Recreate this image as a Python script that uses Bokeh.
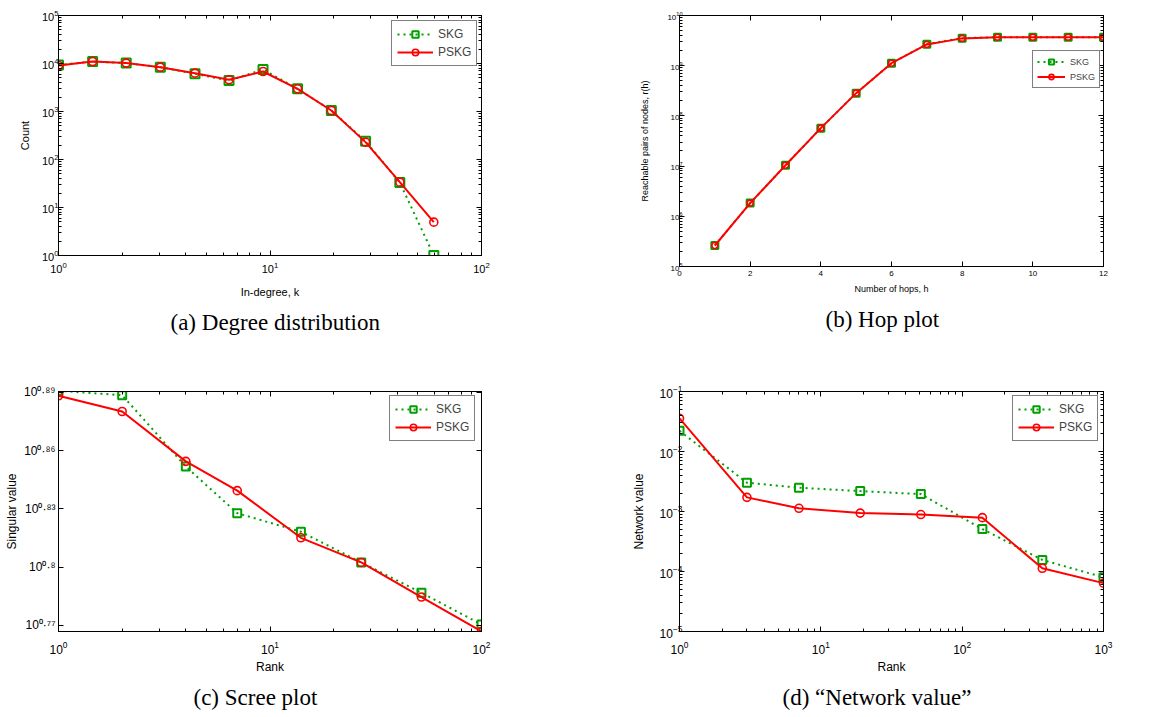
from bokeh.plotting import figure
from bokeh.layouts import column, row
from bokeh.models import (Range1d, LogAxis, LinearAxis, FixedTicker, SingleIntervalTicker,
                          Legend, LegendItem, Title, CustomJSTickFormatter)
from bokeh.embed import file_html
from bokeh.resources import INLINE

# ---------------- data ----------------
# (a) Degree distribution
deg_k = [1.0, 1.45, 2.09, 3.03, 4.42, 6.40, 9.27, 13.5, 19.5, 28.3, 41.1, 59.5]
deg_skg = [9300, 11000, 10200, 8400, 6100, 4400, 7500, 2970, 1050, 240, 33, 1]
deg_pskg = [9080, 11000, 10200, 8390, 6290, 4570, 6810, 2970, 1050, 230, 33.7, 4.95]

# (b) Hop plot
hops = [1, 2, 3, 4, 5, 6, 7, 8, 9, 10, 11, 12]
hop_skg = [2.62e5, 1.83e6, 1.04e7, 5.7e7, 2.84e8, 1.12e9, 2.69e9, 3.54e9, 3.7e9, 3.7e9, 3.7e9, 3.7e9]
hop_pskg = [2.62e5, 1.83e6, 1.04e7, 5.7e7, 2.84e8, 1.12e9, 2.65e9, 3.50e9, 3.7e9, 3.7e9, 3.7e9, 3.7e9]

# (c) Scree plot
scree_rank = [1, 2, 4, 7, 14, 27, 52, 100]
scree_skg = [7.778, 7.737, 7.109, 6.727, 6.580, 6.345, 6.121, 5.895]
scree_pskg = [7.732, 7.589, 7.153, 6.909, 6.533, 6.345, 6.090, 5.847]
scree_tick_exps = ["0.77", "0.8", "0.83", "0.86", "0.89"]

# (d) Network value
net_rank = [1, 3, 7, 19, 51, 139, 369, 1000]
net_skg = [0.0221, 0.00302, 0.00249, 0.00219, 0.00195, 5.1e-4, 1.56e-4, 8.0e-5]
net_pskg = [0.0356, 0.00172, 0.00113, 9.4e-4, 8.9e-4, 7.9e-4, 1.13e-4, 6.4e-5]

captions = ["(a) Degree distribution", "(b) Hop plot", "(c) Scree plot", "(d) \u201cNetwork value\u201d"]

FONT = "Liberation Sans"
SERIF = "Liberation Serif"
GREEN = "#00a000"
RED = "#ff0000"
SUP = {"0": "\u2070", "1": "\u00b9", "2": "\u00b2", "3": "\u00b3", "4": "\u2074",
       "5": "\u2075", "6": "\u2076", "7": "\u2077", "8": "\u2078", "9": "\u2079", ".": "\u00b7"}


def style_axis(ax, fs):
    ax.major_tick_in = 5
    ax.major_tick_out = 0
    ax.minor_tick_in = 3
    ax.minor_tick_out = 0
    ax.axis_line_color = "black"
    ax.major_tick_line_color = "black"
    ax.minor_tick_line_color = "black"
    ax.major_label_text_font = FONT
    ax.major_label_text_font_size = fs
    ax.major_label_text_color = "black"
    ax.axis_label_text_font = FONT
    ax.axis_label_text_font_style = "normal"
    ax.axis_label_text_color = "black"


def make_fig(xt, yt, xr, yr, fw, fh, bl, br, bt, bb):
    p = figure(x_axis_type=xt, y_axis_type=yt, x_range=xr, y_range=yr,
               frame_width=fw, frame_height=fh,
               min_border_left=bl, min_border_right=br,
               min_border_top=bt, min_border_bottom=bb,
               output_backend="svg", toolbar_location=None)
    p.xgrid.visible = False
    p.ygrid.visible = False
    p.outline_line_color = "black"
    p.background_fill_color = "white"
    p.border_fill_color = "white"
    return p


def add_box_axes(p, xt, yt):
    blank = CustomJSTickFormatter(code="return ''")
    xcls = LogAxis if xt == "log" else LinearAxis
    ycls = LogAxis if yt == "log" else LinearAxis
    top = xcls(ticker=p.xaxis[0].ticker, formatter=blank)
    right = ycls(ticker=p.yaxis[0].ticker, formatter=blank)
    for ax in (top, right):
        style_axis(ax, "1px")
        ax.major_label_standoff = 0
    p.add_layout(top, "above")
    p.add_layout(right, "right")


def add_series(p, x, skg, pskg, msq, mci, lab_fs, loc, gw, pad):
    l1 = p.line(x, skg, line_color=GREEN, line_width=2, line_dash="2 4")
    s1 = p.scatter(x, skg, marker="square", size=msq, line_color=GREEN,
                   line_width=2, fill_color=None)
    l2 = p.line(x, pskg, line_color=RED, line_width=2)
    s2 = p.scatter(x, pskg, marker="circle", size=mci, line_color=RED,
                   line_width=1.6, fill_color=None)
    fs = int(lab_fs[:-2])
    leg = Legend(items=[LegendItem(label="SKG", renderers=[l1, s1]),
                        LegendItem(label="PSKG", renderers=[l2, s2])],
                 location=loc, border_line_color="black", border_line_width=1,
                 background_fill_color="white", background_fill_alpha=1,
                 label_text_font=FONT, label_text_font_size=lab_fs,
                 glyph_width=gw, glyph_height=fs + 4, label_height=fs + 4,
                 spacing=2, padding=pad, margin=0, label_standoff=5)
    p.add_layout(leg)


def add_caption(p, text, offset, standoff):
    p.add_layout(Title(text=text, align="left", offset=offset, standoff=standoff,
                       text_font=SERIF, text_font_size="23px",
                       text_font_style="normal", text_color="black"), "below")


# ---------------- (a) ----------------
pa = make_fig("log", "log", Range1d(1, 100), Range1d(1, 1e5), 423, 240, 58, 109, 15, 105)
style_axis(pa.xaxis[0], "11px")
style_axis(pa.yaxis[0], "11px")
pa.xaxis[0].axis_label = "In-degree, k"
pa.yaxis[0].axis_label = "Count"
pa.xaxis[0].axis_label_text_font_size = "11px"
pa.yaxis[0].axis_label_text_font_size = "11px"
pa.xaxis[0].major_label_standoff = 6
pa.yaxis[0].major_label_standoff = 0
pa.xaxis[0].axis_label_standoff = 10
pa.yaxis[0].axis_label_standoff = 8
add_box_axes(pa, "log", "log")
add_series(pa, deg_k, deg_skg, deg_pskg, 9, 8, "12px", (333, 189), 36, 5)
add_caption(pa, captions[0], 112, 14)

# ---------------- (b) ----------------
pb = make_fig("linear", "log", Range1d(0, 12), Range1d(1e5, 1e10), 424, 251, 89, 70, 14, 95)
pb.xaxis[0].ticker = SingleIntervalTicker(interval=2, num_minor_ticks=0)
style_axis(pb.xaxis[0], "8px")
style_axis(pb.yaxis[0], "8px")
pb.xaxis[0].axis_label = "Number of hops, h"
pb.yaxis[0].axis_label = "Reachable pairs of nodes, r(h)"
pb.xaxis[0].axis_label_text_font_size = "9px"
pb.yaxis[0].axis_label_text_font_size = "9px"
pb.xaxis[0].major_label_standoff = 4
pb.yaxis[0].major_label_standoff = -3
pb.xaxis[0].axis_label_standoff = 5
pb.yaxis[0].axis_label_standoff = 14
add_box_axes(pb, "linear", "log")
add_series(pb, hops, hop_skg, hop_pskg, 7, 6, "9px", (353, 178), 28, 4)
add_caption(pb, captions[1], 146, 17)

# ---------------- (c) ----------------
scree_ticks = [10 ** float(e) for e in scree_tick_exps]
scree_labels = ["10" + "".join(SUP[ch] for ch in e) for e in scree_tick_exps]
pc = make_fig("log", "log", Range1d(1, 100), Range1d(5.846, 7.771), 423, 240, 58, 109, 31, 84)
pc.yaxis[0].ticker = FixedTicker(ticks=scree_ticks, minor_ticks=[])
pc.yaxis[0].formatter = CustomJSTickFormatter(args=dict(labels=scree_labels, vals=scree_ticks),
                                              code="""
let best = 0;
for (let i = 0; i < vals.length; i++) {
  if (Math.abs(vals[i] - tick) < Math.abs(vals[best] - tick)) best = i;
}
return labels[best];
""")
style_axis(pc.xaxis[0], "12px")
style_axis(pc.yaxis[0], "12px")
pc.xaxis[0].axis_label = "Rank"
pc.yaxis[0].axis_label = "Singular value"
pc.xaxis[0].axis_label_text_font_size = "12px"
pc.yaxis[0].axis_label_text_font_size = "12px"
pc.xaxis[0].major_label_standoff = 9
pc.xaxis[0].axis_label_standoff = 3
pc.yaxis[0].major_label_standoff = 3
pc.yaxis[0].axis_label_standoff = 2
add_box_axes(pc, "log", "log")
add_series(pc, scree_rank, scree_skg, scree_pskg, 8, 8, "12px", (331, 190), 36, 5)
add_caption(pc, captions[2], 135, 13)

# ---------------- (d) ----------------
pd_ = make_fig("log", "log", Range1d(1, 1000), Range1d(1e-5, 1e-1), 424, 240, 89, 70, 31, 84)
style_axis(pd_.xaxis[0], "12px")
style_axis(pd_.yaxis[0], "12px")
pd_.xaxis[0].axis_label = "Rank"
pd_.yaxis[0].axis_label = "Network value"
pd_.xaxis[0].axis_label_text_font_size = "12px"
pd_.yaxis[0].axis_label_text_font_size = "12px"
pd_.xaxis[0].major_label_standoff = 9
pd_.xaxis[0].axis_label_standoff = 3
pd_.yaxis[0].major_label_standoff = -3
pd_.yaxis[0].axis_label_standoff = 11
add_box_axes(pd_, "log", "log")
add_series(pd_, net_rank, net_skg, net_pskg, 8, 8, "12px", (333, 190), 36, 5)
add_caption(pd_, captions[3], 103, 13)

layout = column(row(pa, pb), row(pc, pd_))
open("out.html", "w").write(file_html(layout, INLINE))
